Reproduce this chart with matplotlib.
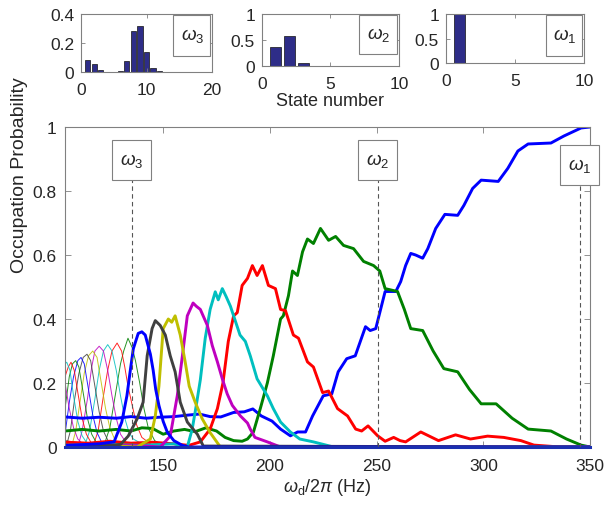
import matplotlib
matplotlib.use('Agg')
import matplotlib.pyplot as plt
from matplotlib.patches import Rectangle

plt.rcParams['font.family'] = ['Liberation Sans', 'DejaVu Sans']
plt.rcParams['mathtext.fontset'] = 'custom'
plt.rcParams['mathtext.rm'] = 'Liberation Sans'
plt.rcParams['mathtext.it'] = 'Liberation Sans:italic'

# ---- occupation probability vs drive frequency (Hz), one curve per state ----
# states 1..8 (thick)
x1 = [104, 112, 120, 128, 135, 142, 148, 155, 162, 167, 172, 177, 183, 188, 192, 196, 201, 205, 209.6, 213,
      216.7, 220, 225, 229, 232, 236, 240, 244.8, 247, 249.6, 254, 259, 261.3, 263.6, 266, 268.3, 271.6, 274,
      277.7, 282, 288, 290.9, 295, 299, 307, 311.5, 316.2, 321, 331.7, 337.8, 345.8, 350]
y1 = [0.094, 0.09, 0.093, 0.09, 0.095, 0.09, 0.093, 0.095, 0.1, 0.103, 0.095, 0.094, 0.108, 0.11, 0.119, 0.097,
      0.081, 0.056, 0.035, 0.047, 0.047, 0.097, 0.16, 0.166, 0.235, 0.276, 0.285, 0.376, 0.364, 0.37, 0.486,
      0.486, 0.517, 0.567, 0.605, 0.6, 0.59, 0.62, 0.683, 0.727, 0.724, 0.755, 0.808, 0.834, 0.83, 0.871, 0.925,
      0.947, 0.95, 0.972, 0.997, 1.0]

x2 = [104, 112, 120, 128, 135, 140, 145, 150, 155, 160, 165, 170, 175, 179, 183, 187, 189.5, 192.3, 195.5,
      198.8, 201.6, 205, 206.3, 208.7, 210.6, 212.9, 215.3, 217.6, 220.4, 223.7, 227.5, 230.8, 234.5, 239.2,
      243.9, 248.6, 251.5, 254, 259.8, 263, 266, 271.6, 276.5, 281.5, 288, 293.5, 299, 306, 313.5, 321, 331.7,
      339, 345.8, 350]
y2 = [0.05, 0.055, 0.05, 0.055, 0.05, 0.06, 0.058, 0.04, 0.05, 0.055, 0.048, 0.06, 0.05, 0.03, 0.02, 0.018,
      0.025, 0.047, 0.12, 0.2, 0.285, 0.4, 0.41, 0.473, 0.55, 0.536, 0.61, 0.65, 0.636, 0.683, 0.646, 0.658,
      0.63, 0.62, 0.58, 0.567, 0.55, 0.495, 0.486, 0.43, 0.37, 0.364, 0.3, 0.245, 0.235, 0.18, 0.135, 0.135,
      0.09, 0.056, 0.05, 0.025, 0.006, 0.0]

x3 = [104, 115, 125, 135, 145, 155, 162, 167.4, 172, 175.4, 178, 180.5, 183, 184.7, 187, 189.5, 191.8, 194,
      196.5, 199.3, 202.6, 205, 207.3, 211, 213.4, 217.6, 220.4, 224.7, 227.5, 231.7, 236.4, 240.2, 243, 246,
      250.5, 254, 258, 261, 263.6, 270.7, 279, 287, 294, 302, 309.6, 317.6, 323.7, 336, 350]
y3 = [0.015, 0.012, 0.018, 0.012, 0.015, 0.01, 0.005, 0.016, 0.056, 0.12, 0.2, 0.33, 0.41, 0.42, 0.505, 0.527,
      0.567, 0.536, 0.567, 0.505, 0.495, 0.43, 0.426, 0.35, 0.34, 0.266, 0.25, 0.17, 0.175, 0.12, 0.097, 0.056,
      0.05, 0.066, 0.035, 0.018, 0.03, 0.02, 0.016, 0.047, 0.02, 0.038, 0.025, 0.034, 0.03, 0.02, 0.006, 0.0, 0.0]

x4 = [104, 120, 140, 155, 161.3, 163.6, 165.5, 167.4, 169.7, 172, 174.4, 175.8, 177.7, 179.5, 181.5, 183, 186,
      188.5, 190.8, 194, 198.8, 201.6, 205, 209.6, 214, 220.4, 229.8, 350]
y4 = [0.005, 0.008, 0.005, 0.01, 0.0, 0.056, 0.13, 0.21, 0.34, 0.43, 0.485, 0.46, 0.495, 0.47, 0.44, 0.41, 0.35,
      0.33, 0.285, 0.213, 0.16, 0.12, 0.078, 0.047, 0.025, 0.016, 0.0, 0.0]

x5 = [104, 120, 140, 148.6, 153.3, 156.6, 159, 161.3, 164, 165.5, 167.4, 170.7, 173, 175.4, 177.7, 180, 182.4,
      186.2, 189.5, 190.8, 193, 198.8, 205, 350]
y5 = [0.005, 0.005, 0.004, 0.0, 0.034, 0.16, 0.285, 0.41, 0.45, 0.44, 0.43, 0.38, 0.317, 0.266, 0.213, 0.166,
      0.13, 0.097, 0.075, 0.056, 0.03, 0.016, 0.0, 0.0]

x6 = [104, 120, 137.8, 144, 146.3, 148, 150, 152.4, 154, 155.6, 158, 160.3, 162.2, 165, 168.3, 172, 176.8, 350]
y6 = [0.003, 0.005, 0.0, 0.025, 0.097, 0.19, 0.37, 0.4, 0.39, 0.41, 0.35, 0.266, 0.19, 0.14, 0.088, 0.045, 0.0, 0.0]

x7 = [104, 120, 130, 133.6, 137.8, 140.6, 142.5, 144.8, 146.3, 148.6, 151, 153.3, 155.6, 158, 161.3, 166, 168.8, 350]
y7 = [0.003, 0.004, 0.008, 0.034, 0.088, 0.14, 0.285, 0.37, 0.395, 0.38, 0.35, 0.285, 0.235, 0.14, 0.078, 0.04,
      0.003, 0.0]

x8 = [104, 120, 127, 130.6, 133, 134.5, 136, 138.3, 140, 141.6, 144, 145.3, 146.5, 148, 150, 152, 155, 159, 162, 350]
y8 = [0.005, 0.01, 0.016, 0.078, 0.16, 0.235, 0.307, 0.355, 0.36, 0.35, 0.29, 0.24, 0.18, 0.13, 0.08, 0.045,
      0.02, 0.005, 0.0, 0.0]

# states 9..19 (thin)
x9 = [104, 118, 122, 125, 128, 130, 131.5, 133.5, 135.5, 137, 139, 141, 143, 146, 150]
y9 = [0.01, 0.01, 0.0, 0.06, 0.18, 0.26, 0.3, 0.34, 0.31, 0.27, 0.2, 0.12, 0.06, 0.02, 0.005]
x10 = [104, 114, 117, 119.5, 122, 124, 126, 128.4, 130.5, 132, 133.5, 135.5, 137.5, 140, 144]
y10 = [0.02, 0.01, 0.0, 0.05, 0.16, 0.24, 0.3, 0.325, 0.3, 0.25, 0.19, 0.13, 0.07, 0.03, 0.01]
x11 = [104, 110, 113, 115.5, 118, 120, 122, 124, 126, 128, 130, 132, 134, 136, 140]
y11 = [0.02, 0.01, 0.0, 0.05, 0.15, 0.24, 0.3, 0.32, 0.3, 0.24, 0.16, 0.09, 0.045, 0.025, 0.01]
x12 = [104, 110, 112, 114.5, 116.5, 118, 120, 122, 124, 126, 128, 130, 133, 136]
y12 = [0.01, 0.0, 0.05, 0.15, 0.25, 0.3, 0.315, 0.3, 0.24, 0.16, 0.09, 0.04, 0.01, 0.0]
x13 = [104, 107, 109, 111, 113, 115, 117, 119, 121, 123, 125, 127.5, 131]
y13 = [0.02, 0.0, 0.05, 0.14, 0.23, 0.285, 0.3, 0.28, 0.2, 0.12, 0.06, 0.02, 0.0]
x14 = [104, 104.5, 106.5, 108.5, 110.5, 112.5, 114.3, 116, 118, 120, 122, 124.5, 128]
y14 = [0.01, 0.0, 0.05, 0.15, 0.23, 0.28, 0.29, 0.27, 0.19, 0.11, 0.05, 0.015, 0.0]
x15 = [104, 106, 108, 110, 111.5, 113, 115, 117, 119, 121.5, 125]
y15 = [0.04, 0.14, 0.22, 0.27, 0.28, 0.26, 0.18, 0.1, 0.045, 0.01, 0.0]
x16 = [104, 106, 107.5, 109, 110.5, 112.5, 114.5, 116.5, 119, 122]
y16 = [0.12, 0.22, 0.26, 0.27, 0.25, 0.17, 0.09, 0.04, 0.01, 0.0]
x17 = [104, 105.5, 106.8, 108.3, 110, 112, 114, 116.5, 120]
y17 = [0.22, 0.25, 0.265, 0.24, 0.17, 0.09, 0.04, 0.01, 0.0]
x18 = [104, 104.8, 106.3, 108, 110, 112, 114.5, 118]
y18 = [0.26, 0.265, 0.24, 0.16, 0.08, 0.035, 0.01, 0.0]
x19 = [104, 106, 108, 110, 113, 116]
y19 = [0.2, 0.12, 0.06, 0.025, 0.005, 0.0]

thick_x = [x1, x2, x3, x4, x5, x6, x7, x8]
thick_y = [y1, y2, y3, y4, y5, y6, y7, y8]
thin_x = [x9, x10, x11, x12, x13, x14, x15, x16, x17, x18, x19]
thin_y = [y9, y10, y11, y12, y13, y14, y15, y16, y17, y18, y19]

line_colors = ['#0000FF', '#008000', '#FF0000', '#00BFBF', '#BF00BF', '#BFBF00', '#404040']

# marked drive frequencies
omega_freqs = [135.3, 250.5, 345.3]
omega_labels = [r'$\omega_3$', r'$\omega_2$', r'$\omega_1$']

# state histograms at the marked frequencies
hist3_states = [1, 2, 3, 4, 5, 6, 7, 8, 9, 10, 11, 12]
hist3_vals = [0.085, 0.052, 0.011, 0.002, 0.0, 0.008, 0.073, 0.281, 0.315, 0.137, 0.027, 0.005]
hist2_states = [1, 2, 3]
hist2_vals = [0.374, 0.574, 0.05]
hist1_states = [1]
hist1_vals = [1.0]

main_xticks = [150, 200, 250, 300, 350]
main_yticks = [0, 0.2, 0.4, 0.6, 0.8, 1]
main_yticklabels = ['0', '0.2', '0.4', '0.6', '0.8', '1']

axcol = '#808080'
txtcol = '#262626'

fig = plt.figure(figsize=(6.06, 5.06), dpi=100)

ax = fig.add_axes([0.1073, 0.1146, 0.8663, 0.6324])
for i in range(len(thin_x)):
    ax.plot(thin_x[i], thin_y[i], color=line_colors[(i + 8) % 7], lw=0.7, alpha=0.85)
for i in range(len(thick_x)):
    ax.plot(thick_x[i], thick_y[i], color=line_colors[i % 7], lw=2.1, solid_joinstyle='round')
ax.plot([104, 350], [0, 0], color='#1a2fb0', lw=2.2, clip_on=False, zorder=3)

ax.set_xlim(104, 350)
ax.set_ylim(0, 1)
ax.set_xticks(main_xticks)
ax.set_yticks(main_yticks)
ax.set_yticklabels(main_yticklabels)
ax.tick_params(direction='in', top=True, right=True, length=4, width=0.6, color=axcol,
               labelsize=12.5, labelcolor=txtcol)
ax.tick_params(axis='x', pad=8)
ax.tick_params(axis='y', pad=6)
for s in ax.spines.values():
    s.set_color(axcol)
    s.set_linewidth(0.8)
ax.set_xlabel(r'$\omega_{\rm d}/2\pi$ (Hz)', fontsize=13, color=txtcol, labelpad=2)
ax.set_ylabel('Occupation Probability', fontsize=14, color=txtcol)
ax.yaxis.set_label_coords(-0.07, 0.853)

box_w = 18.3
box_h = 0.125
box_bottoms = [0.834, 0.834, 0.818]
for w, lab, b in zip(omega_freqs, omega_labels, box_bottoms):
    ax.plot([w, w], [0, b], ls=(0, (4, 3)), color='#555555', lw=0.8, zorder=4)
    ax.add_patch(Rectangle((w - box_w / 2, b), box_w, box_h, facecolor='white', edgecolor=axcol,
                           lw=0.8, clip_on=False, zorder=5))
    ax.text(w, b + box_h / 2, lab, ha='center', va='center', fontsize=13.5, color=txtcol, zorder=6)

# insets
insets = [
    ([0.1337, 0.8557, 0.2162, 0.1146], hist3_states, hist3_vals, (0, 20), [0, 10, 20], (0, 0.4),
     [0, 0.2, 0.4], ['0', '0.2', '0.4'], r'$\omega_3$', (0.70, 0.276)),
    ([0.4323, 0.8676, 0.2261, 0.1028], hist2_states, hist2_vals, (0, 10), [0, 5, 10], (0, 1),
     [0, 0.5, 1], ['0', '0.5', '1'], r'$\omega_2$', (0.708, 0.23)),
    ([0.7360, 0.8735, 0.2277, 0.0968], hist1_states, hist1_vals, (0, 10), [0, 5, 10], (0, 1),
     [0, 0.5, 1], ['0', '0.5', '1'], r'$\omega_1$', (0.725, 0.143)),
]
for k, (pos, st, vals, xl, xt, yl, yt, ytl, lab, corner) in enumerate(insets):
    a = fig.add_axes(pos)
    a.bar(st, vals, width=0.8, color='#2E2D88', edgecolor='#111111', lw=0.5)
    a.set_xlim(*xl)
    a.set_ylim(*yl)
    a.set_xticks(xt)
    a.set_yticks(yt)
    a.set_yticklabels(ytl)
    a.tick_params(direction='in', top=True, right=True, length=3, width=0.6, color=axcol,
                  labelsize=12.5, labelcolor=txtcol)
    a.tick_params(axis='x', pad=7)
    a.tick_params(axis='y', pad=5)
    for s in a.spines.values():
        s.set_color(axcol)
        s.set_linewidth(0.8)
    bx, by = corner
    a.add_patch(Rectangle((bx, by), 1 - bx - 0.012, 1 - by - 0.02, transform=a.transAxes,
                          facecolor='white', edgecolor=axcol, lw=0.8, zorder=5))
    a.text((1 + bx) / 2, (1 + by) / 2, lab, transform=a.transAxes, ha='center', va='center',
           fontsize=13.5, color=txtcol, zorder=6)
    if k == 1:
        a.set_xlabel('State number', fontsize=13, color=txtcol, labelpad=1)

fig.savefig('out.png', dpi=100)
